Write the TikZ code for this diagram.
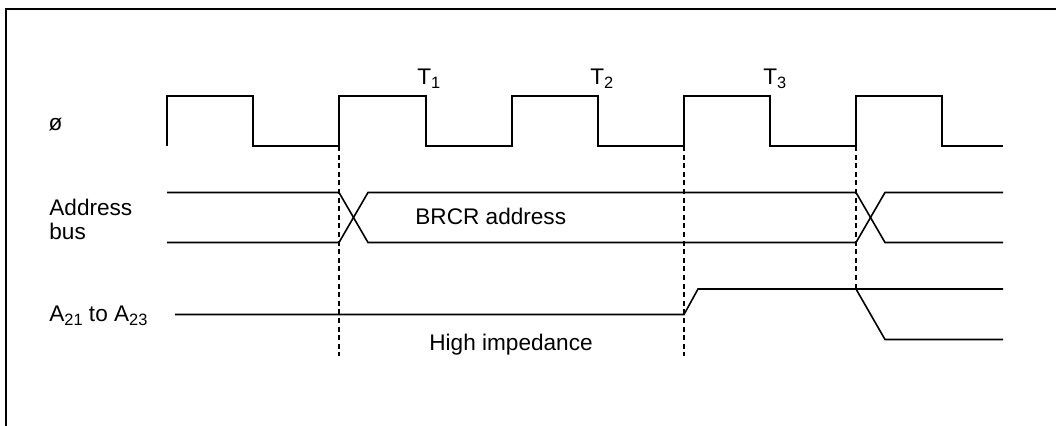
\documentclass[tikz,border=0pt]{standalone}
\usepackage{fontspec}
\setmainfont{Liberation Sans}
\usetikzlibrary{positioning}
\newcommand{\sigsub}[1]{\raisebox{-1.6pt}{\fontsize{8.2}{9}\selectfont #1}}

\begin{document}
\begin{tikzpicture}[x=0.5pt, y=-0.5pt,
  signal/.style={line width=0.8pt, line join=miter},
  marker/.style={line width=0.55pt, dash pattern=on 2.5pt off 1.8pt},
  lbl/.style={inner sep=0pt, font=\fontsize{11.3}{12}\selectfont}]
\useasboundingbox (0,0) rectangle (1056,426);
% Frame
\draw[line width=1pt] (6,426) -- (6,9) -- (1056,9);

% Cycle markers
\draw[marker] (339,146) -- (339,356);
\draw[marker] (684,146) -- (684,356);
\draw[marker] (856,146) -- (856,289);

% Clock
\node[lbl] (phi) at (55.5,125) {ø};
\draw[signal] (167,146) -- (167,96) -- (253,96) -- (253,146) -- (339,146)
  -- (339,96) -- (426,96) -- (426,146) -- (512,146) -- (512,96) -- (598,96)
  -- (598,146) -- (684,146) -- (684,96) -- (770,96) -- (770,146)
  -- (856,146) -- (856,96) -- (942,96) -- (942,146) -- (1003,146);
\node[lbl, anchor=base west] (t1) at (417,85) {T\sigsub{1}};
\node[lbl, anchor=base west] (t2) at (590,85) {T\sigsub{2}};
\node[lbl, anchor=base west] (t3) at (763,85) {T\sigsub{3}};

% Address bus
\node[lbl, anchor=north west, align=left] (addr) at (49,198.5) {Address\\bus};
\draw[signal] (167,192.5) -- (339,192.5) -- (368,242.5) -- (856,242.5)
  -- (885,192.5) -- (1003,192.5);
\draw[signal] (167,242.5) -- (339,242.5) -- (368,192.5) -- (856,192.5)
  -- (885,242.5) -- (1003,242.5);
\node[lbl, anchor=base west] (brcr) at (415,225) {BRCR address};

% A21 to A23
\node[lbl, anchor=base west] (ahigh) at (49,322)
  {A\sigsub{21} to A\sigsub{23}};
\draw[signal] (175,314.5) -- (684,314.5) -- (698,289) -- (1003,289);
\draw[signal] (856,289) -- (885,339.5) -- (1003,339.5);
\node[lbl, anchor=base west] (hiz) at (429,351) {High impedance};
\end{tikzpicture}
\end{document}
